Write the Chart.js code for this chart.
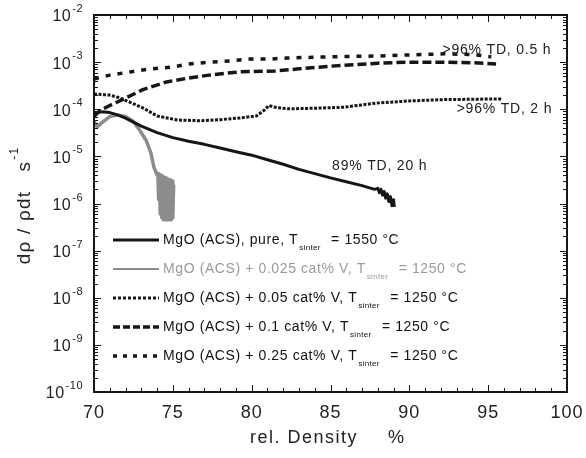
<!DOCTYPE html>
<html>
<head>
<meta charset="utf-8">
<script src="https://cdn.jsdelivr.net/npm/chart.js@4"></script>
<style>
html, body { margin: 0; padding: 0; background: #fff; }
</style>
</head>
<body>
<canvas id="myChart" width="586" height="458"></canvas>
<script>
// data
const seriesNames = ['MgO (ACS), pure', 'MgO (ACS) + 0.025 cat% V', 'MgO (ACS) + 0.05 cat% V', 'MgO (ACS) + 0.1 cat% V', 'MgO (ACS) + 0.25 cat% V'];
const sinterTemps = [1550, 1250, 1250, 1250, 1250];
const notes = ['>96% TD, 0.5 h', '>96% TD, 2 h', '89% TD, 20 h'];

const xTicks = [70, 75, 80, 85, 90, 95, 100];
const yTickExps = [-2, -3, -4, -5, -6, -7, -8, -9, -10];

const pureX = [70, 70.5, 71, 71.5, 72, 73, 74, 75, 76, 77, 78, 79, 80, 81, 82, 83, 84, 85, 86, 87, 87.8, 88.0, 88.1, 88.2, 88.3, 88.4, 88.5, 88.6, 88.7, 88.8, 88.9, 89.0, 89.05];
const pureY = [8.3e-5, 8.8e-5, 8.5e-5, 7.6e-5, 6.5e-5, 4.4e-5, 3.2e-5, 2.5e-5, 2.1e-5, 1.8e-5, 1.5e-5, 1.25e-5, 1.06e-5, 8.5e-6, 6.8e-6, 5.3e-6, 4.3e-6, 3.5e-6, 2.9e-6, 2.4e-6, 2.0e-6, 2.1e-6, 1.7e-6, 2.0e-6, 1.5e-6, 1.8e-6, 1.3e-6, 1.6e-6, 1.1e-6, 1.4e-6, 9e-7, 1.2e-6, 8.5e-7];

const v025X = [70, 70.2, 70.5, 71, 71.5, 72, 72.5, 72.9, 73.3, 73.6, 73.8, 74.0,
  74.05, 74.1, 74.15, 74.2, 74.25, 74.3, 74.35, 74.4, 74.45, 74.5, 74.55, 74.6, 74.65, 74.7, 74.75, 74.8, 74.85, 74.9, 74.95, 75.0, 75.05];
const v025Y = [5.5e-5, 4.2e-5, 5.2e-5, 7e-5, 7.5e-5, 7e-5, 5.5e-5, 3.6e-5, 2.2e-5, 1.2e-5, 5.9e-6, 4e-6,
  4.4e-6, 1.2e-6, 4.2e-6, 6e-7, 4e-6, 5e-7, 3.8e-6, 4.5e-7, 3.6e-6, 4.5e-7, 3.5e-6, 4.5e-7, 3.4e-6, 4.5e-7, 3.2e-6, 5e-7, 3.2e-6, 4.5e-7, 3e-6, 5e-7, 2.5e-6];

const v05X = [70, 71, 71.5, 72.3, 73.1, 74, 75.3, 76.8, 78, 79.2, 80.3, 80.8, 81.1, 81.4, 81.7, 82.4, 84, 85.8, 87.9, 90, 92.1, 94, 95.9];
const v05Y = [2.1e-4, 2e-4, 1.8e-4, 1.4e-4, 1.07e-4, 7.2e-5, 5.9e-5, 5.7e-5, 6e-5, 6.5e-5, 7.2e-5, 9.6e-5, 1.2e-4, 1.12e-4, 1.07e-4, 1.02e-4, 1.05e-4, 1.1e-4, 1.35e-4, 1.5e-4, 1.6e-4, 1.63e-4, 1.66e-4];

const v1X = [70, 70.4, 71, 71.8, 73.1, 74.6, 76, 77.3, 79.2, 81.5, 83, 85, 88, 90, 92.2, 94, 95.5];
const v1Y = [7e-5, 9.5e-5, 1.2e-4, 1.6e-4, 2.6e-4, 3.8e-4, 4.6e-4, 5.3e-4, 6.2e-4, 6.5e-4, 7.2e-4, 8.2e-4, 9.5e-4, 1e-3, 1e-3, 9.7e-4, 9.1e-4];

const v25X = [70, 71, 72.3, 73.5, 75, 76, 77.3, 78.6, 79.9, 81.1, 82.2, 85, 88, 90, 92.2, 94, 95.2];
const v25Y = [4.4e-4, 5.3e-4, 6.2e-4, 7.1e-4, 7.9e-4, 9.1e-4, 1e-3, 1.06e-3, 1.16e-3, 1.16e-3, 1.22e-3, 1.3e-3, 1.35e-3, 1.42e-3, 1.5e-3, 1.45e-3, 1.3e-3];

const FONT = '"Liberation Sans", Arial, Helvetica, sans-serif';
const INK = '#161616';
const GRAY = '#8c8c8c';

function pts(xs, ys) {
  return xs.map((v, i) => ({x: v, y: ys[i]}));
}

// setup block
const seriesData = [pts(pureX, pureY), pts(v025X, v025Y), pts(v05X, v05Y), pts(v1X, v1Y), pts(v25X, v25Y)];
const lineStyles = [
  {color: INK, width: 3, dash: [], legendWidth: 3, legendDash: []},
  {color: GRAY, width: 3.5, dash: [], legendWidth: 2, legendDash: []},
  {color: INK, width: 3, dash: [3, 1.5], legendWidth: 3, legendDash: [3, 2]},
  {color: INK, width: 3.5, dash: [9, 4], legendWidth: 3.5, legendDash: [7, 3]},
  {color: INK, width: 3.5, dash: [5, 7], legendWidth: 3.5, legendDash: [4, 6]}
];

const chart_data = {
  datasets: seriesData.map((d, i) => ({
    label: seriesNames[i],
    data: d,
    borderColor: lineStyles[i].color,
    borderWidth: lineStyles[i].width,
    borderDash: lineStyles[i].dash,
    borderCapStyle: 'butt',
    borderJoinStyle: 'round',
    pointRadius: 0,
    tension: 0,
    fill: false
  }))
};

// frame, ticks and all the text
const decor = {
  id: 'decor',
  afterDatasetsDraw(chart) {
    const {ctx, chartArea: a, scales: {x, y}} = chart;
    ctx.save();
    ctx.strokeStyle = INK;
    ctx.lineWidth = 1;
    ctx.beginPath();
    for (let v = 70; v <= 100; v++) {
      const px = Math.round(x.getPixelForValue(v)) + 0.5;
      const len = v % 5 === 0 ? 7 : 4;
      ctx.moveTo(px, a.bottom); ctx.lineTo(px, a.bottom - len);
      ctx.moveTo(px, a.top); ctx.lineTo(px, a.top + len);
    }
    for (let e = -10; e < -2; e++) {
      for (let m = 1; m < 10; m++) {
        const py = Math.round(y.getPixelForValue(m * Math.pow(10, e))) + 0.5;
        const len = m === 1 ? 7 : 4;
        ctx.moveTo(a.left, py); ctx.lineTo(a.left + len, py);
        ctx.moveTo(a.right, py); ctx.lineTo(a.right - len, py);
      }
    }
    ctx.stroke();
    ctx.lineWidth = 2;
    ctx.strokeRect(a.left, a.top, a.right - a.left, a.bottom - a.top);

    // annotations
    ctx.fillStyle = '#222';
    ctx.font = '14px ' + FONT;
    ctx.letterSpacing = '0.8px';
    ctx.textBaseline = 'middle';
    ctx.textAlign = 'left';
    const notePos = [[92.1, 1.8e-3], [93.0, 1.0e-4], [85.1, 6.3e-6]];
    notes.forEach((t, i) => {
      ctx.fillText(t, x.getPixelForValue(notePos[i][0]), y.getPixelForValue(notePos[i][1]));
    });

    // legend
    const rowY = [240, 269, 298, 327, 356];
    const lx0 = 113, lx1 = 159, tx = 163;
    seriesNames.forEach((name, i) => {
      const s = lineStyles[i];
      const yy = rowY[i];
      ctx.beginPath();
      ctx.setLineDash(s.legendDash);
      ctx.lineWidth = s.legendWidth;
      ctx.strokeStyle = s.color;
      ctx.lineCap = 'butt';
      ctx.moveTo(lx0, yy); ctx.lineTo(lx1, yy);
      ctx.stroke();
      ctx.setLineDash([]);
      ctx.fillStyle = i === 1 ? '#9a9a9a' : '#111';
      ctx.font = '14px ' + FONT;
      ctx.letterSpacing = '0.6px';
      const main = name + ', T';
      ctx.fillText(main, tx, yy);
      let cx = tx + ctx.measureText(main).width;
      ctx.font = '8px ' + FONT;
      ctx.letterSpacing = '0.3px';
      ctx.fillText('sinter', cx + 1, yy + 8);
      cx += ctx.measureText('sinter').width + 1;
      ctx.font = '14px ' + FONT;
      ctx.letterSpacing = '0.6px';
      ctx.fillText(' = ' + sinterTemps[i] + ' \u00B0C', cx + 6, yy);
    });
    ctx.restore();
  },
  afterDraw(chart) {
    const {ctx, chartArea: a, scales: {x, y}} = chart;
    ctx.save();
    ctx.fillStyle = '#222';
    ctx.textBaseline = 'middle';
    // x tick labels
    ctx.font = '18px ' + FONT;
    ctx.letterSpacing = '1px';
    ctx.textAlign = 'center';
    xTicks.forEach(v => ctx.fillText(String(v), x.getPixelForValue(v), a.bottom + 21));
    // x title
    ctx.textAlign = 'left';
    ctx.letterSpacing = '1.5px';
    ctx.fillText('rel. Density', 250, a.bottom + 46);
    ctx.fillText('%', 388, a.bottom + 46);
    // y tick labels 10^n
    ctx.letterSpacing = '0.5px';
    yTickExps.forEach(e => {
      const py = y.getPixelForValue(Math.pow(10, e));
      ctx.font = '16px ' + FONT;
      const w10 = ctx.measureText('10').width;
      ctx.font = '11px ' + FONT;
      const sup = '-' + Math.abs(e);
      const ws = ctx.measureText(sup).width;
      const x0 = 83 - w10 - ws - 1;
      ctx.font = '16px ' + FONT;
      ctx.fillText('10', x0, py + 2);
      ctx.font = '11px ' + FONT;
      ctx.fillText(sup, x0 + w10 + 1, py - 6);
    });
    // y title
    ctx.translate(25, 206);
    ctx.rotate(-Math.PI / 2);
    ctx.letterSpacing = '1.2px';
    ctx.font = '19px ' + FONT;
    const t1 = 'd\u03C1 / \u03C1dt   s';
    const w1 = ctx.measureText(t1).width;
    ctx.font = '12px ' + FONT;
    const w2 = ctx.measureText('-1').width;
    const start = -(w1 + w2) / 2;
    ctx.font = '19px ' + FONT;
    ctx.fillText(t1, start, 0);
    ctx.font = '12px ' + FONT;
    ctx.fillText('-1', start + w1 + 1, -10);
    ctx.restore();
  }
};

// config block
const config = {
  type: 'line',
  data: chart_data,
  options: {
    responsive: false,
    animation: false,
    layout: {padding: {left: 94, right: 19, top: 15, bottom: 66}},
    plugins: {legend: {display: false}, tooltip: {enabled: false}},
    scales: {
      x: {type: 'linear', min: 70, max: 100, display: false},
      y: {type: 'logarithmic', min: 1e-10, max: 1e-2, display: false}
    }
  },
  plugins: [decor]
};

// render block
const myChart = new Chart(
  document.getElementById('myChart').getContext('2d'),
  config
);
</script>
</body>
</html>
